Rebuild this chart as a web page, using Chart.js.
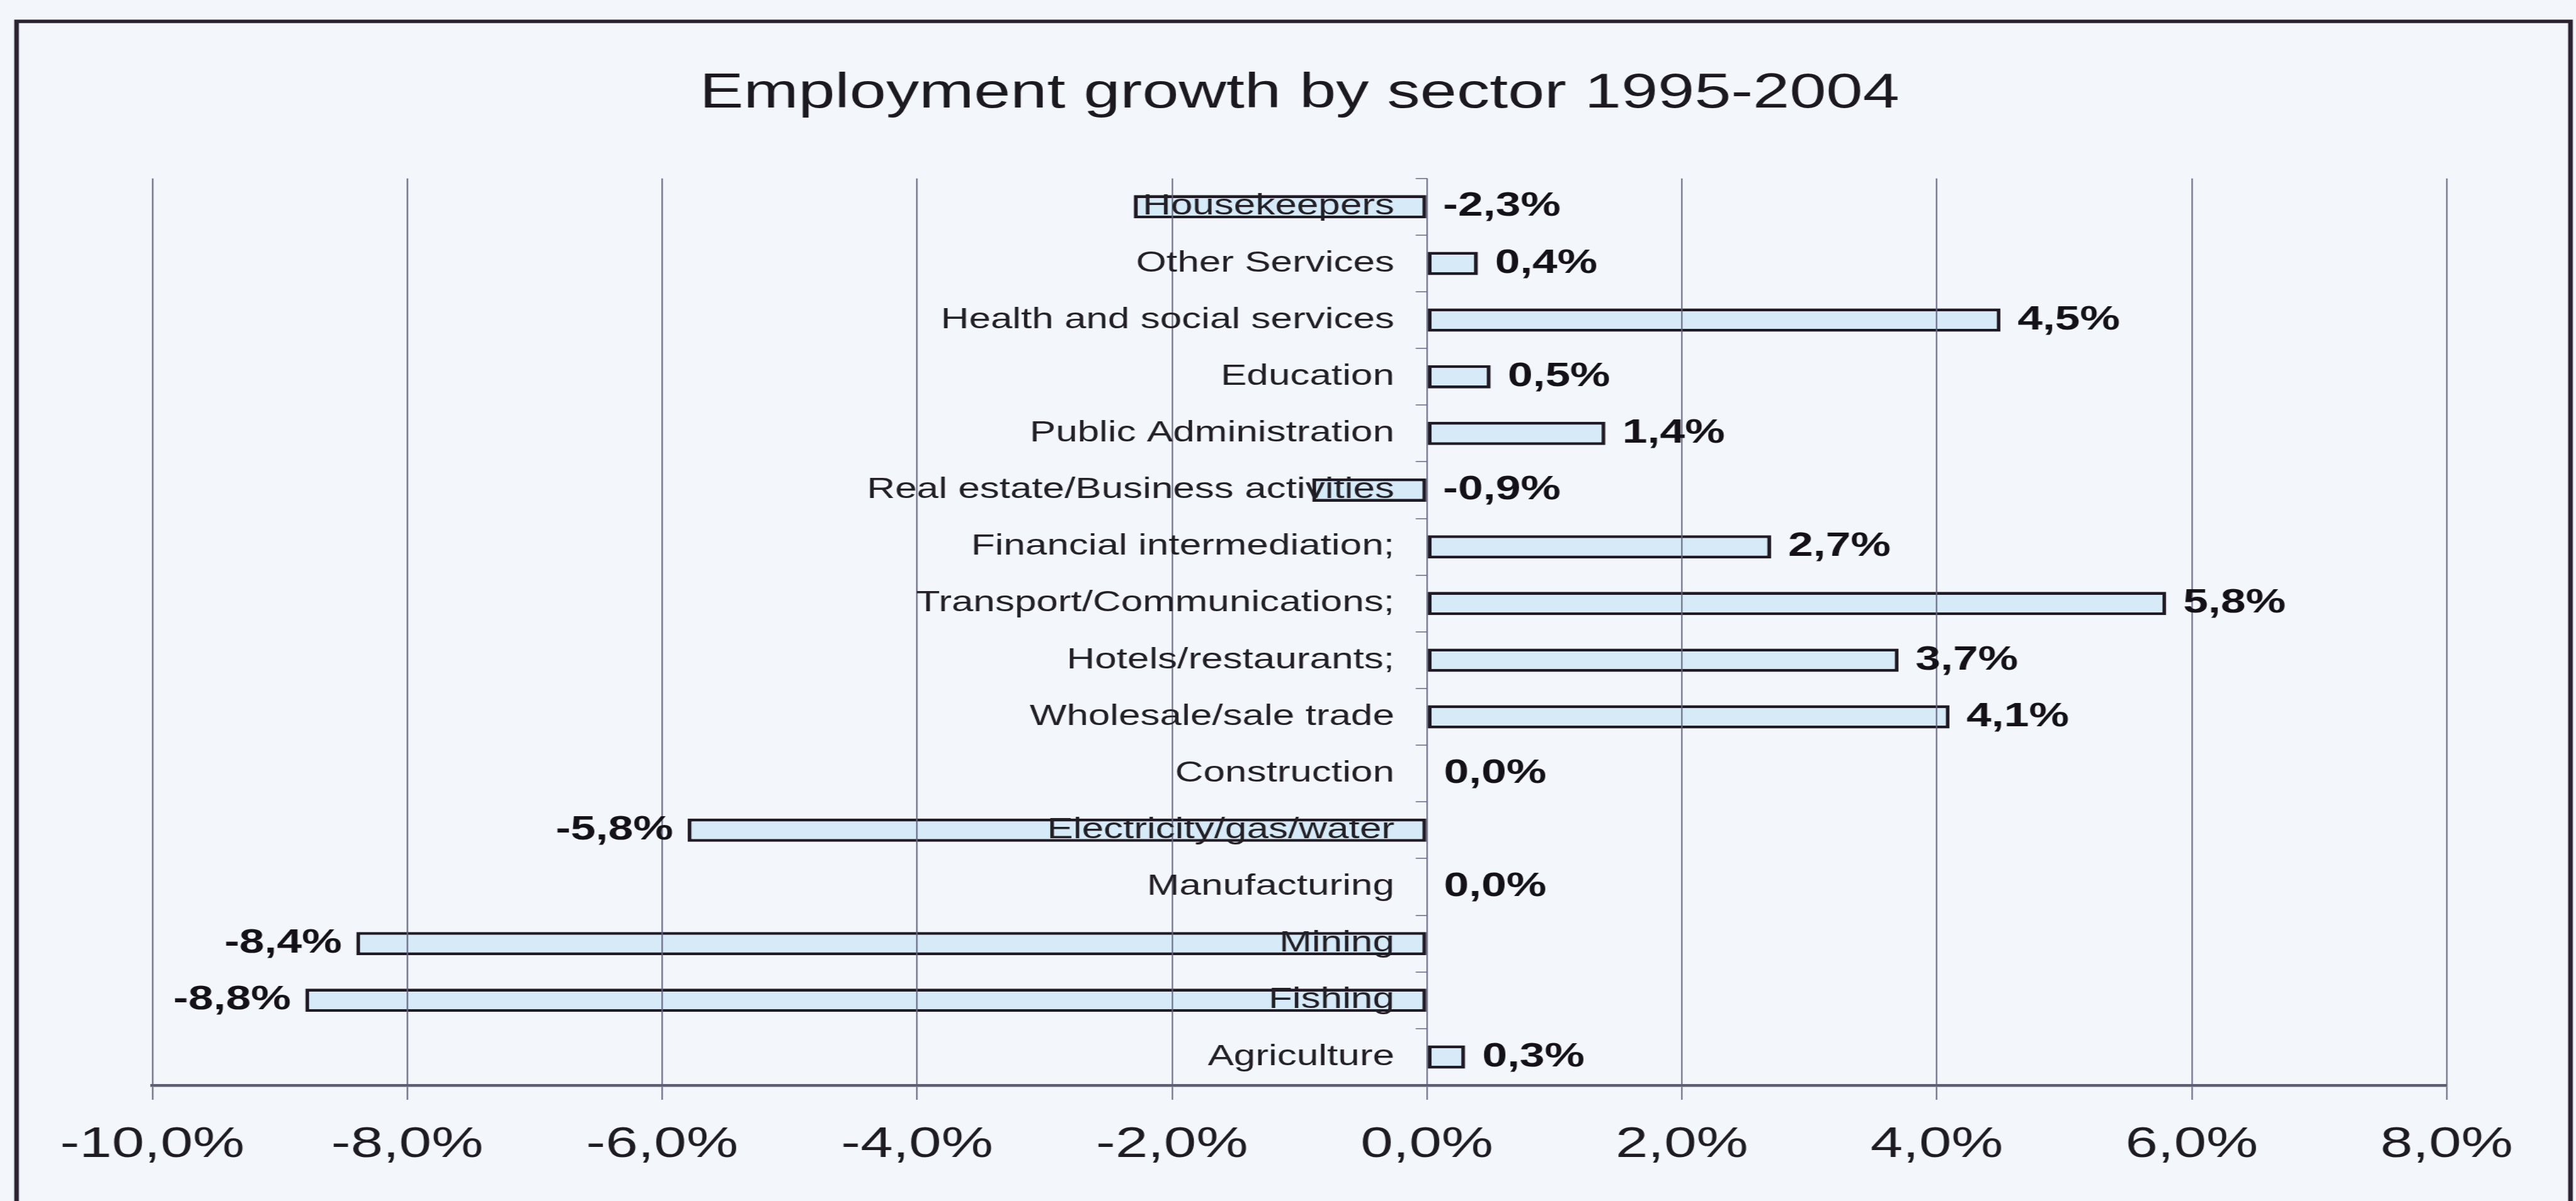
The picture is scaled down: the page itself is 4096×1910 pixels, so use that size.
<!DOCTYPE html>
<html>
<head>
<meta charset="utf-8">
<title>Employment growth by sector 1995-2004</title>
<script src="https://cdn.jsdelivr.net/npm/chart.js@4/dist/chart.umd.min.js"></script>
<style>
  html, body { margin: 0; padding: 0; background: #f3f6fb; overflow: hidden; }
  /* the drawing surface is rendered narrower and widened by CSS,
     which gives the broad, stretched lettering of the printed chart */
  #chart { display: block; width: 4096px !important; height: 1910px !important; }
</style>
</head>
<body>
<canvas id="chart" width="3034" height="1910" style="width:4096px;height:1910px;"></canvas>
<script>
// Sectors, top to bottom
const sectors = [
  'Housekeepers',
  'Other Services',
  'Health and social services',
  'Education',
  'Public Administration',
  'Real estate/Business activities',
  'Financial intermediation;',
  'Transport/Communications;',
  'Hotels/restaurants;',
  'Wholesale/sale trade',
  'Construction',
  'Electricity/gas/water',
  'Manufacturing',
  'Mining',
  'Fishing',
  'Agriculture'
];

// Employment growth 1995-2004, percent
const growth = [-2.3, 0.4, 4.5, 0.5, 1.4, -0.9, 2.7, 5.8, 3.7, 4.1, 0.0, -5.8, 0.0, -8.4, -8.8, 0.3];

// Value axis ticks
const xTickValues = [-10, -8, -6, -4, -2, 0, 2, 4, 6, 8];
const xTickLabels = ['-10,0%', '-8,0%', '-6,0%', '-4,0%', '-2,0%', '0,0%', '2,0%', '4,0%', '6,0%', '8,0%'];

const chartTitle = 'Employment growth by sector 1995-2004';

const FONT = '"Liberation Sans", Arial, sans-serif';
Chart.defaults.font.family = FONT;

const fmtPct = v => v.toFixed(1).replace('.', ',') + '%';

// page background and the dark frame around the chart
const framePlugin = {
  id: 'frame',
  beforeDraw(chart) {
    const ctx = chart.ctx;
    ctx.save();
    ctx.fillStyle = '#f3f6fb';
    ctx.fillRect(0, 0, chart.width, chart.height);
    ctx.strokeStyle = '#2a2230';
    ctx.lineWidth = 5.5;
    ctx.beginPath();
    ctx.moveTo(19.5, chart.height + 10);
    ctx.lineTo(19.5, 34);
    ctx.lineTo(3027.5, 34);
    ctx.lineTo(3027.5, chart.height + 10);
    ctx.stroke();
    ctx.restore();
  }
};

// bold value labels next to each bar; short negative bars get their
// label on the right of the zero line so it clears the sector name
const valueLabelPlugin = {
  id: 'valueLabels',
  afterDraw(chart) {
    const ctx = chart.ctx;
    const meta = chart.getDatasetMeta(0);
    const zeroX = chart.scales.x.getPixelForValue(0);
    ctx.save();
    ctx.font = 'bold 53px ' + FONT;
    ctx.fillStyle = '#141216';
    ctx.textBaseline = 'middle';
    meta.data.forEach((bar, i) => {
      const v = growth[i];
      const text = fmtPct(v);
      if (v < 0 && v > -3) {
        ctx.textAlign = 'left';
        ctx.fillText(text, zeroX + 19, bar.y);
      } else if (v < 0) {
        ctx.textAlign = 'right';
        ctx.fillText(text, bar.x - 17, bar.y);
      } else {
        ctx.textAlign = 'left';
        ctx.fillText(text, Math.max(bar.x, zeroX) + 20, bar.y);
      }
    });
    ctx.restore();
  }
};

new Chart(document.getElementById('chart'), {
  type: 'bar',
  data: {
    labels: sectors,
    datasets: [{
      data: growth,
      backgroundColor: '#d6ebf7',
      borderColor: '#1f1a24',
      borderWidth: 4.6,
      borderSkipped: false,
      barPercentage: 0.41,
      categoryPercentage: 1
    }]
  },
  options: {
    indexAxis: 'y',
    responsive: false,
    animation: false,
    devicePixelRatio: 1,
    layout: { padding: { left: 179.4, right: 152.4, top: 0, bottom: 0 } },
    plugins: {
      legend: { display: false },
      tooltip: { enabled: false },
      title: {
        display: true,
        text: chartTitle,
        color: '#1c1a20',
        font: { size: 77.5, weight: 'normal', lineHeight: 1.2 },
        padding: { top: 103, bottom: 87.7 }
      }
    },
    scales: {
      x: {
        type: 'linear',
        position: 'bottom',
        min: -10,
        max: 8,
        afterBuildTicks: s => { s.ticks = xTickValues.map(v => ({ value: v })); },
        afterFit: s => { s.height = 184; },
        grid: { color: '#64647e', lineWidth: 1.6, tickLength: 23, drawTicks: true, z: 1 },
        border: { display: true, color: '#5e5e72', width: 4.5, z: 1 },
        ticks: {
          autoSkip: false,
          maxRotation: 0,
          padding: 31,
          color: '#1e1c22',
          font: { size: 68.6 },
          callback: (v, i) => xTickLabels[i]
        }
      },
      y: {
        type: 'category',
        position: { x: 0 },
        offset: true,
        grid: { offset: true, drawOnChartArea: false, drawTicks: true, tickLength: 13.6, color: '#8a8aa2', lineWidth: 2 },
        border: { display: false },
        ticks: {
          z: 1,
          autoSkip: false,
          color: '#222026',
          font: { size: 46 },
          // names sit right-aligned on the zero line; trailing spaces keep them clear of it
          callback: (v, i) => sectors[i] + '   '
        }
      }
    }
  },
  plugins: [framePlugin, valueLabelPlugin]
});
</script>
</body>
</html>
